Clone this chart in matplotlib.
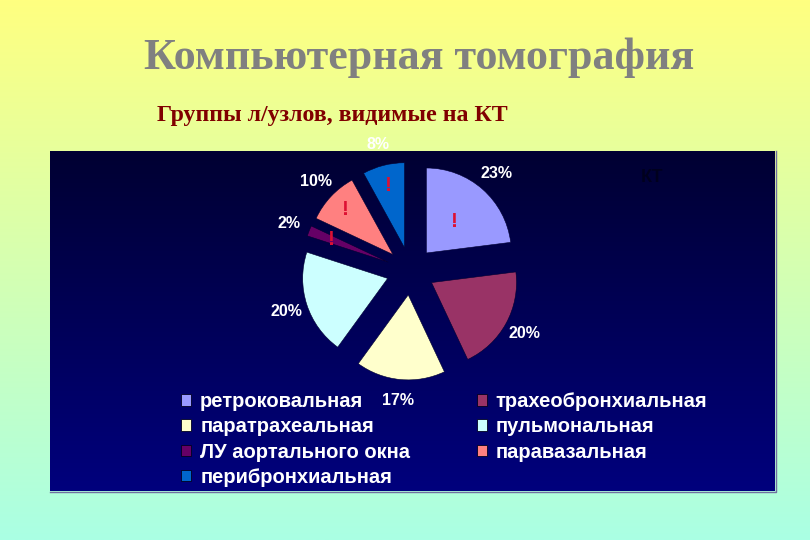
import numpy as np
import matplotlib
matplotlib.use("Agg")
import matplotlib.pyplot as plt
from matplotlib.patches import Patch

# data
labels = ["ретроковальная", "трахеобронхиальная", "паратрахеальная",
          "пульмональная", "ЛУ аортального окна", "паравазальная",
          "перибронхиальная"]
values = [23, 20, 17, 20, 2, 10, 8]
colors = ["#9999FF", "#993366", "#FFFFCC", "#CCFFFF", "#660066", "#FF8080", "#0066CC"]
flagged = [True, False, False, False, True, True, True]

title = "Компьютерная томография"
subtitle = "Группы л/узлов, видимые на КТ"

W, H = 810, 540
fig = plt.figure(figsize=(W / 100, H / 100), dpi=100)
ax = fig.add_axes([0, 0, 1, 1])

def Y(y):
    # pixel row (from top) -> data y
    return H - y

# background gradient yellow -> aqua
top = np.array([255, 255, 128]) / 255
bot = np.array([170, 255, 228]) / 255
t = np.linspace(0, 1, 256)[:, None, None]
bg = top * (1 - t) + bot * t
ax.imshow(bg, extent=[0, W, 0, H], aspect="auto", zorder=0, interpolation="bilinear")

# dark panel
px0, px1, py0, py1 = 50, 775, 151, 491
ptop = np.array([0, 0, 50]) / 255
pbot = np.array([0, 0, 125]) / 255
pg = ptop * (1 - t) + pbot * t
ax.imshow(pg, extent=[px0, px1, Y(py1), Y(py0)], aspect="auto", zorder=1,
          interpolation="bilinear")
ax.plot([px1 + 1, px1 + 1, px0], [Y(py0), Y(py1 + 1), Y(py1 + 1)],
        color="#7070A0", lw=1, zorder=1)

# pie (explode is in data units here since radius is in pixels)
cx, cy, r = 410.5, Y(271), 85
wedges, texts, autotexts = ax.pie(
    values, colors=colors, startangle=90, counterclock=False,
    explode=[24] * len(values), radius=r, center=(cx, cy), frame=True,
    autopct=lambda p: f"{p:.0f}%", pctdistance=1.25,
    wedgeprops=dict(linewidth=0.4, edgecolor="#000030"),
    textprops=dict(color="white", fontsize=11.5, fontweight="bold",
                   family="Liberation Sans"))
for w in wedges:
    w.set_zorder(3)
for a in autotexts:
    a.set_zorder(4)

# red marks on some slices
mark_r = [0.5, 0, 0, 0, 0.72, 0.77, 0.76]
for w, f, mr in zip(wedges, flagged, mark_r):
    if not f:
        continue
    ang = np.deg2rad((w.theta1 + w.theta2) / 2)
    wx, wy = w.center
    d = mr * r
    ax.text(wx + d * np.cos(ang), wy + d * np.sin(ang), "!", color="#DD1133",
            fontsize=15, fontweight="bold", family="Liberation Sans",
            ha="center", va="center", zorder=5)

ax.text(652, Y(178), "КТ", color="#00001E", fontsize=13, fontweight="bold",
        family="Liberation Sans", ha="center", va="center", zorder=2)

# legend, row-major order
handles = [Patch(facecolor=c, edgecolor="#000020", linewidth=0.6) for c in colors]
order = [0, 2, 4, 6, 1, 3, 5]
leg = ax.legend([handles[i] for i in order], [labels[i] for i in order],
                ncol=2, loc="upper left", bbox_to_anchor=(171, Y(382)),
                bbox_transform=ax.transData, frameon=False,
                handlelength=0.5, handleheight=0.5, handletextpad=0.45,
                labelspacing=0.31, columnspacing=3.3, borderpad=0,
                prop=dict(family="Liberation Sans", weight="bold", size=14.5))
for txt in leg.get_texts():
    txt.set_color("white")
leg.set_zorder(6)

# titles
ax.text(419, Y(58), title, color="#808080", fontsize=31.8, fontweight="bold",
        family="Liberation Serif", ha="center", va="center", zorder=2)
ax.text(157, Y(115), subtitle, color="#800000", fontsize=17.2, fontweight="bold",
        family="Liberation Serif", ha="left", va="center", zorder=2)

ax.set_xlim(0, W)
ax.set_ylim(0, H)
ax.set_aspect("auto")
ax.axis("off")
fig.savefig("out.png", dpi=100)
